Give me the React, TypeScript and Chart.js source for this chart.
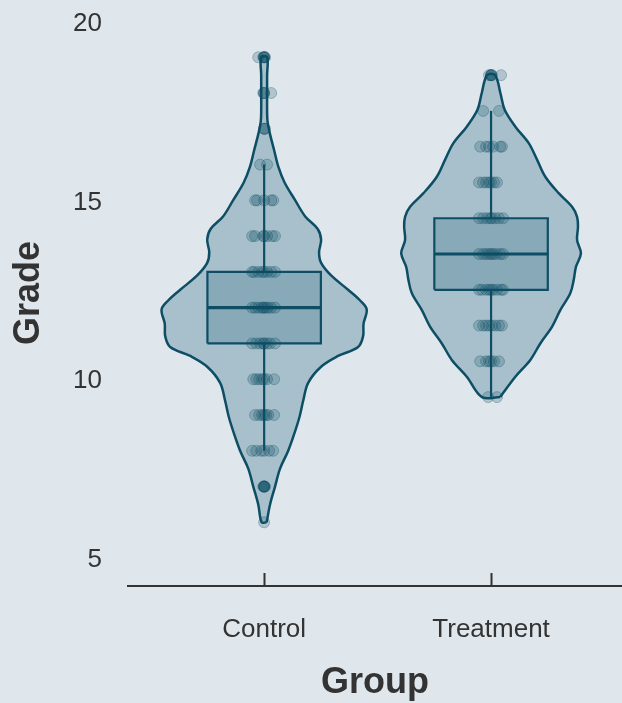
import React, { useEffect, useRef } from 'react';
import { Chart, registerables } from 'chart.js';

Chart.register(...registerables);

// Groups and their positions on the x axis
const groups = ['Control', 'Treatment'];
const groupPositions = [1, 2];

// Y axis tick values
const yTickValues = [5, 10, 15, 20];

// Violin outlines: grade and half-width of the density (in group units)
const controlViolinGrade = [6.0, 6.5, 7.0, 7.5, 8.0, 8.5, 8.95, 9.4, 9.9, 10.35, 10.65, 10.9, 11.2, 11.55, 11.95, 12.2, 12.5, 12.9, 13.25, 13.55, 13.9, 14.2, 14.55, 15.0, 15.5, 15.95, 16.4, 16.9, 17.2, 17.5, 18.0, 18.5, 19.0];
const controlViolinHalfWidth = [0.011, 0.026, 0.048, 0.07, 0.106, 0.134, 0.156, 0.172, 0.194, 0.251, 0.326, 0.414, 0.436, 0.438, 0.452, 0.423, 0.37, 0.295, 0.251, 0.242, 0.251, 0.236, 0.181, 0.137, 0.09, 0.062, 0.044, 0.024, 0.015, 0.013, 0.013, 0.013, 0.013];
const treatmentViolinGrade = [9.5, 10.07, 10.54, 11.0, 11.47, 11.93, 12.4, 12.77, 13.14, 13.52, 13.89, 14.26, 14.54, 14.82, 15.2, 15.66, 16.13, 16.6, 17.06, 17.53, 18.0, 18.5];
const treatmentViolinHalfWidth = [0.04, 0.107, 0.173, 0.217, 0.269, 0.305, 0.349, 0.364, 0.374, 0.396, 0.379, 0.383, 0.379, 0.357, 0.298, 0.239, 0.203, 0.166, 0.107, 0.06, 0.041, 0.018];

// Box plot summaries, one entry per group
const boxLowerWhisker = [8, 9.5];
const boxQ1 = [11, 12.5];
const boxMedian = [12, 13.5];
const boxQ3 = [13, 14.5];
const boxUpperWhisker = [16, 17.5];

// Student grades: one row per grade value, with the horizontal jitter of each student
const controlPointGrade = [19, 18, 17, 16, 15, 14, 13, 12, 11, 10, 9, 8, 7, 6];
const controlPointJitter = [
  [-0.026, -0.004, 0, 0, 0, 0.004],
  [-0.004, 0, 0, 0.031],
  [0, 0, 0.004],
  [-0.018, 0.013],
  [-0.04, -0.031, 0, 0.031, 0.04],
  [-0.053, -0.04, -0.004, 0, 0.013, 0.035, 0.048],
  [-0.053, -0.044, -0.026, -0.009, 0, 0.013, 0.031, 0.048],
  [-0.053, -0.04, -0.026, -0.013, -0.004, 0, 0.009, 0.018, 0.031, 0.048],
  [-0.053, -0.035, -0.018, -0.004, 0, 0.013, 0.026, 0.048],
  [-0.048, -0.035, -0.022, -0.009, 0, 0.013, 0.044],
  [-0.04, -0.022, -0.009, 0, 0.009, 0.018, 0.044],
  [-0.053, -0.035, -0.013, 0, 0.022, 0.04],
  [-0.004, 0, 0, 0, 0, 0.004],
  [0],
];
const treatmentPointGrade = [18.5, 17.5, 16.5, 15.5, 14.5, 13.5, 12.5, 11.5, 10.5, 9.5];
const treatmentPointJitter = [
  [-0.009, 0, 0, 0, 0.004, 0.044],
  [-0.035, 0.035],
  [-0.048, -0.022, -0.009, 0.009, 0.04, 0.048],
  [-0.053, -0.035, -0.022, -0.009, 0, 0.013, 0.026],
  [-0.053, -0.035, -0.018, -0.004, 0.004, 0.018, 0.035, 0.053],
  [-0.053, -0.035, -0.022, -0.009, 0, 0.009, 0.022, 0.04, 0.053],
  [-0.053, -0.04, -0.022, -0.009, 0, 0.009, 0.026, 0.044, 0.053],
  [-0.053, -0.035, -0.022, -0.009, 0.004, 0.018, 0.035, 0.048],
  [-0.048, -0.022, -0.009, 0, 0.013, 0.035],
  [-0.013, 0.026],
];

// Styling
const BG = '#dfe6ec';
const INK = '#0d4e65';
const VIOLIN_FILL = '#a8c0cb';
const BOX_FILL = '#88a9b8';
const POINT_FILL = 'rgba(13, 78, 101, 0.22)';
const POINT_EDGE = 'rgba(13, 78, 101, 0.3)';
const TEXT = '#333333';
const FONT = '"Liberation Sans", Arial, Helvetica, sans-serif';
const BOX_HALF_WIDTH = 0.25;

type Pt = { x: number; y: number };

function violinOutline(center: number, grades: number[], halfWidths: number[]): Pt[] {
  const right = grades.map((g, i) => ({ x: center + halfWidths[i], y: g }));
  const left = grades.map((g, i) => ({ x: center - halfWidths[i], y: g })).reverse();
  return [...right, ...left, right[0]];
}

function jitterPoints(center: number, grades: number[], jitter: number[][]): Pt[] {
  const pts: Pt[] = [];
  grades.forEach((g, i) => jitter[i].forEach((j) => pts.push({ x: center + j, y: g })));
  return pts;
}

const noPoints = { pointRadius: 0, pointHoverRadius: 0, pointHitRadius: 0 };

function buildDatasets() {
  const violins = [
    violinOutline(groupPositions[0], controlViolinGrade, controlViolinHalfWidth),
    violinOutline(groupPositions[1], treatmentViolinGrade, treatmentViolinHalfWidth),
  ];
  const points = [
    jitterPoints(groupPositions[0], controlPointGrade, controlPointJitter),
    jitterPoints(groupPositions[1], treatmentPointGrade, treatmentPointJitter),
  ];
  const ds: any[] = [];
  groupPositions.forEach((c, i) => {
    ds.push({
      label: `${groups[i]} violin`,
      data: violins[i],
      fill: 'shape',
      backgroundColor: VIOLIN_FILL,
      borderColor: INK,
      borderWidth: 2.5,
      tension: 0.35,
      order: 10,
      ...noPoints,
    });
    ds.push({
      label: `${groups[i]} box`,
      data: [
        { x: c - BOX_HALF_WIDTH, y: boxQ1[i] },
        { x: c + BOX_HALF_WIDTH, y: boxQ1[i] },
        { x: c + BOX_HALF_WIDTH, y: boxQ3[i] },
        { x: c - BOX_HALF_WIDTH, y: boxQ3[i] },
        { x: c - BOX_HALF_WIDTH, y: boxQ1[i] },
      ],
      fill: 'shape',
      backgroundColor: BOX_FILL,
      borderColor: INK,
      borderWidth: 2.2,
      borderJoinStyle: 'miter',
      tension: 0,
      order: 8,
      ...noPoints,
    });
    ds.push({
      label: `${groups[i]} upper whisker`,
      data: [{ x: c, y: boxQ3[i] }, { x: c, y: boxUpperWhisker[i] }],
      fill: false,
      borderColor: INK,
      borderWidth: 2.2,
      tension: 0,
      order: 6,
      ...noPoints,
    });
    ds.push({
      label: `${groups[i]} lower whisker`,
      data: [{ x: c, y: boxLowerWhisker[i] }, { x: c, y: boxQ1[i] }],
      fill: false,
      borderColor: INK,
      borderWidth: 2.2,
      tension: 0,
      order: 6,
      ...noPoints,
    });
    ds.push({
      label: `${groups[i]} median`,
      data: [{ x: c - BOX_HALF_WIDTH, y: boxMedian[i] }, { x: c + BOX_HALF_WIDTH, y: boxMedian[i] }],
      fill: false,
      borderColor: INK,
      borderWidth: 3.2,
      tension: 0,
      order: 5,
      ...noPoints,
    });
    ds.push({
      label: `${groups[i]} grades`,
      data: points[i],
      showLine: false,
      fill: false,
      pointRadius: 5.5,
      pointHoverRadius: 5.5,
      pointBackgroundColor: POINT_FILL,
      pointBorderColor: POINT_EDGE,
      pointBorderWidth: 1,
      order: 1,
    });
  });
  return ds;
}

const backgroundPlugin = {
  id: 'canvasBackground',
  beforeDraw(chart: any) {
    const { ctx, width, height } = chart;
    ctx.save();
    ctx.fillStyle = BG;
    ctx.fillRect(0, 0, width, height);
    ctx.restore();
  },
};

export default function App() {
  const ref = useRef<HTMLCanvasElement>(null);

  useEffect(() => {
    const canvas = ref.current;
    if (!canvas) return;
    const chart = new Chart(canvas, {
      type: 'line',
      data: { datasets: buildDatasets() },
      plugins: [backgroundPlugin],
      options: {
        responsive: false,
        animation: false,
        devicePixelRatio: 1,
        events: [],
        layout: { padding: 0, autoPadding: false },
        plugins: {
          legend: { display: false },
          tooltip: { enabled: false },
        },
        scales: {
          x: {
            type: 'linear',
            min: 0.4,
            max: 2.577,
            bounds: 'data',
            afterBuildTicks: (scale: any) => {
              scale.ticks = groupPositions.map((v) => ({ value: v }));
            },
            afterFit: (scale: any) => {
              scale.height = 117;
              scale.paddingLeft = 0;
              scale.paddingRight = 0;
            },
            ticks: {
              autoSkip: false,
              maxRotation: 0,
              minRotation: 0,
              padding: 41,
              color: TEXT,
              font: { family: FONT, size: 26 },
              callback: (v: any) => {
                const idx = groupPositions.indexOf(Number(v));
                return idx >= 0 ? groups[idx] : '';
              },
            },
            grid: {
              display: true,
              drawOnChartArea: false,
              drawTicks: true,
              tickLength: -13,
              tickWidth: 2,
              tickColor: '#333333',
            },
            border: { display: true, color: '#333333', width: 2 },
            title: {
              display: true,
              text: 'Group',
              color: TEXT,
              font: { family: FONT, size: 36, weight: 'bold' },
              padding: { top: 0, bottom: -2 },
            },
          },
          y: {
            type: 'linear',
            min: 4.22,
            max: 20.6,
            bounds: 'data',
            afterBuildTicks: (scale: any) => {
              scale.ticks = yTickValues.map((v) => ({ value: v }));
            },
            afterFit: (scale: any) => {
              scale.width = 128;
              scale.paddingTop = 0;
              scale.paddingBottom = 0;
            },
            ticks: {
              padding: 26,
              labelOffset: 2,
              color: TEXT,
              font: { family: FONT, size: 26 },
            },
            grid: { display: false, drawTicks: false },
            border: { display: false },
            title: {
              display: true,
              text: 'Grade',
              color: TEXT,
              font: { family: FONT, size: 36, weight: 'bold' },
              padding: { top: 7, bottom: 0 },
            },
          },
        },
      } as any,
    });
    return () => chart.destroy();
  }, []);

  return (
    <div style={{ position: 'fixed', left: 0, top: 0, width: 622, height: 703, background: BG }}>
      <canvas ref={ref} width={622} height={703} style={{ display: 'block', width: 622, height: 703 }} />
    </div>
  );
}
